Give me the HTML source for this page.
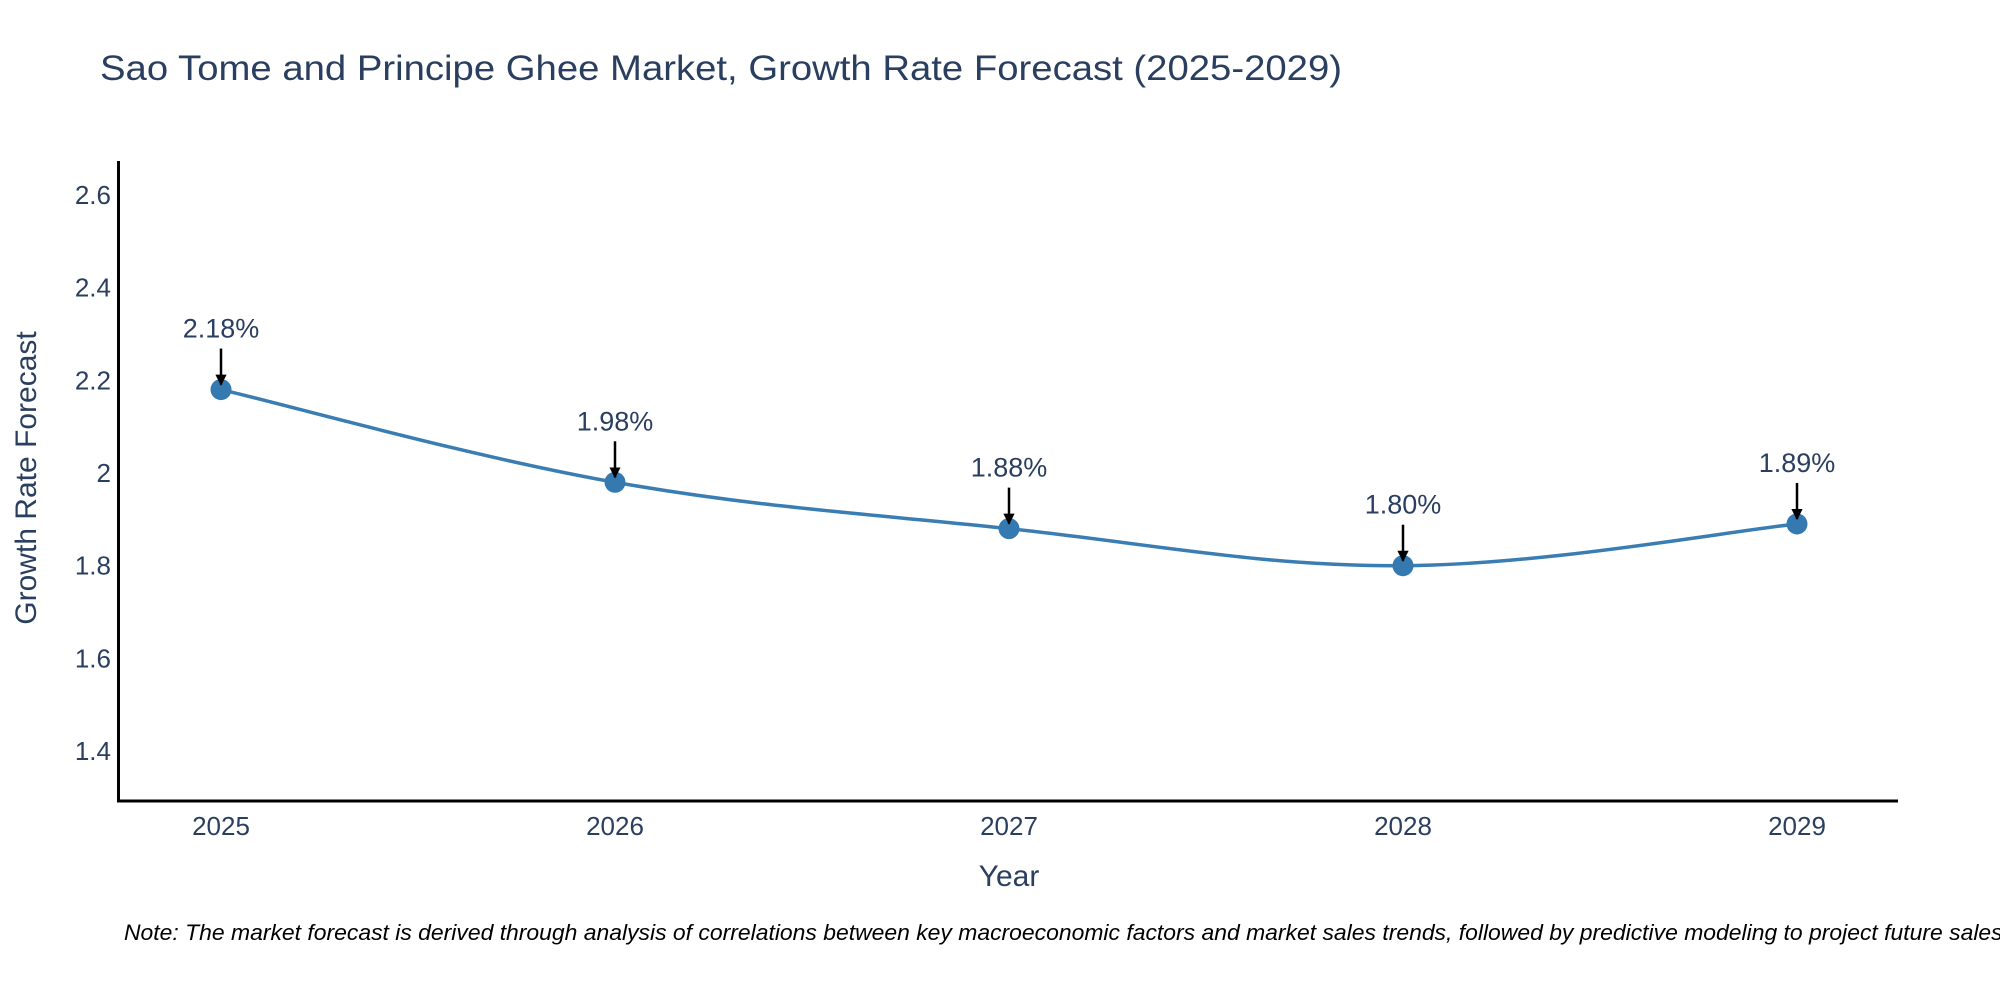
<!DOCTYPE html>
<html><head><meta charset="utf-8"><style>
html,body{margin:0;padding:0;background:#fff;}
svg{display:block;font-family:"Liberation Sans",sans-serif;}
</style></head><body>
<svg id="chart" width="2000" height="1000" viewBox="0 0 2000 1000">
<defs><marker id="ah" markerWidth="4.5" markerHeight="4.5" refX="4" refY="2.25" orient="auto" markerUnits="strokeWidth"><path d="M0,0 L4.5,2.25 L0,4.5 z" fill="#000"/></marker></defs>
<text x="100" y="80" font-size="35" fill="#2a3f5f" textLength="1242" lengthAdjust="spacingAndGlyphs">Sao Tome and Principe Ghee Market, Growth Rate Forecast (2025-2029)</text>
<g id="yticks"></g>
<g id="xticks"></g>
<line x1="118.5" y1="161" x2="118.5" y2="802" stroke="#000" stroke-width="3"/>
<line x1="117" y1="801" x2="1898" y2="801" stroke="#000" stroke-width="3"/>
<text transform="translate(36,478) rotate(-90)" text-anchor="middle" font-size="30" fill="#2a3f5f">Growth Rate Forecast</text>
<text x="1009" y="886" text-anchor="middle" font-size="30" fill="#2a3f5f">Year</text>
<path id="line" fill="none" stroke="#3a7db3" stroke-width="3.5"/>
<g id="marks"></g>
<text x="124" y="940" font-size="22" font-style="italic" fill="#000" textLength="1885" lengthAdjust="spacingAndGlyphs">Note: The market forecast is derived through analysis of correlations between key macroeconomic factors and market sales trends, followed by predictive modeling to project future sales.</text>
</svg>
<script>
const years = [2025, 2026, 2027, 2028, 2029];
const values = [2.18, 1.98, 1.88, 1.80, 1.89];
const labels = ["2.18%", "1.98%", "1.88%", "1.80%", "1.89%"];
const yTicks = [1.4, 1.6, 1.8, 2.0, 2.2, 2.4, 2.6];
const yTickLabels = ["1.4", "1.6", "1.8", "2", "2.2", "2.4", "2.6"];

const NS = "http://www.w3.org/2000/svg";
function xs(v){ return 221 + (v - 2025) * 394; }
function ys(v){ return 473 - (v - 2.0) / 0.2 * 92.7; }
function mk(tag, attrs, parent){ const e = document.createElementNS(NS, tag); for (const k in attrs) e.setAttribute(k, attrs[k]); parent.appendChild(e); return e; }

const yg = document.getElementById('yticks');
yTicks.forEach((t, i) => {
  const tx = mk('text', {x: 111, y: ys(t) + 9, 'text-anchor': 'end', 'font-size': 26, fill: '#2a3f5f'}, yg);
  
  
  tx.textContent = yTickLabels[i];
});
const xg = document.getElementById('xticks');
years.forEach(y => {
  const tx = mk('text', {x: xs(y), y: 835, 'text-anchor': 'middle', 'font-size': 26, fill: '#2a3f5f'}, xg);
  
  
  tx.textContent = String(y);
});

const pts = years.map((y, i) => [xs(y), ys(values[i])]);
let d = 'M' + pts[0][0] + ',' + pts[0][1];
for (let i = 0; i < pts.length - 1; i++) {
  const p0 = pts[Math.max(i - 1, 0)], p1 = pts[i], p2 = pts[i + 1], p3 = pts[Math.min(i + 2, pts.length - 1)];
  const t = 0.18;
  const c1 = [p1[0] + (p2[0] - p0[0]) * t, p1[1] + (p2[1] - p0[1]) * t];
  const c2 = [p2[0] - (p3[0] - p1[0]) * t, p2[1] - (p3[1] - p1[1]) * t];
  d += ' C' + c1 + ' ' + c2 + ' ' + p2;
}
document.getElementById('line').setAttribute('d', d);

const mg = document.getElementById('marks');
pts.forEach((p, i) => {
  const c = mk('circle', {cx: p[0], cy: p[1], r: 10.5, fill: '#3579b1'}, mg);
  
  
  const l = mk('line', {x1: p[0], y1: p[1] - 41, x2: p[0], y2: p[1] - 5, stroke: '#000', 'stroke-width': 2.5, 'marker-end': 'url(#ah)'}, mg);
  
  
  const tx = mk('text', {x: p[0], y: p[1] - 52, 'text-anchor': 'middle', 'font-size': 27, fill: '#2a3f5f'}, mg);
  
  
  tx.textContent = labels[i];
});
</script>
</body></html>
